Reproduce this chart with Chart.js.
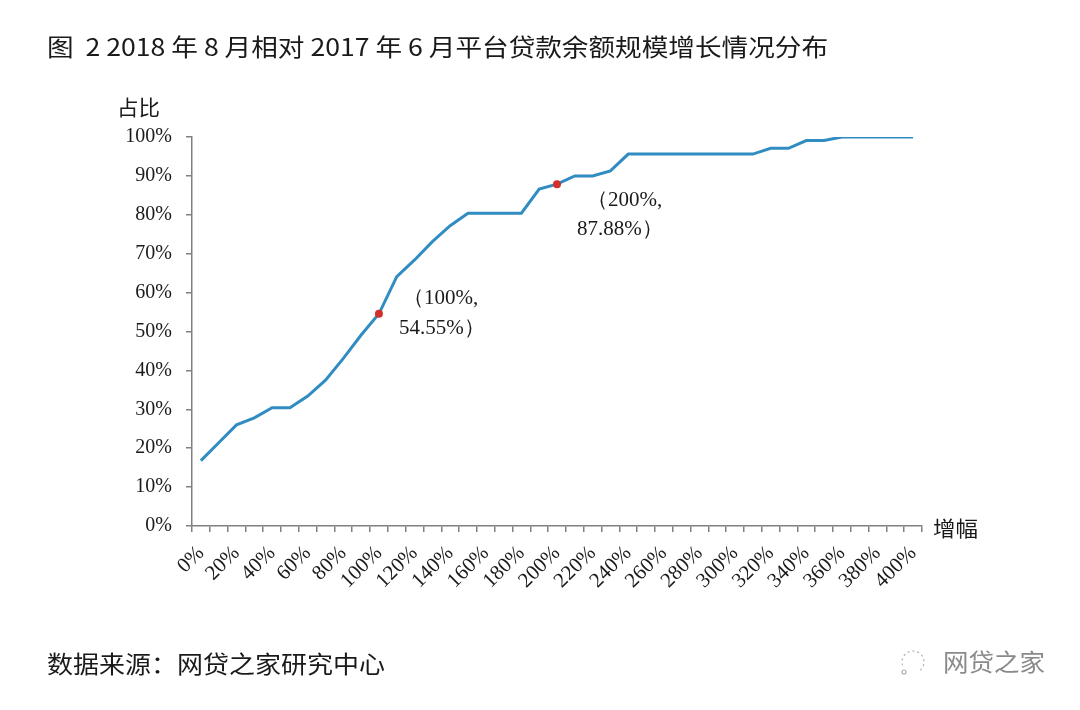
<!DOCTYPE html>
<html><head><meta charset="utf-8">
<script src="https://cdn.jsdelivr.net/npm/chart.js@4"></script>
<style>html,body{margin:0;padding:0;background:#fff;}#wrap{width:1080px;height:710px;position:relative;}</style>
</head><body><div id="wrap"><canvas id="c" width="1080" height="710"></canvas></div>
<script>
// ---- data ----
const categories = ['0%','10%','20%','30%','40%','50%','60%','70%','80%','90%',
  '100%','110%','120%','130%','140%','150%','160%','170%','180%','190%',
  '200%','210%','220%','230%','240%','250%','260%','270%','280%','290%',
  '300%','310%','320%','330%','340%','350%','360%','370%','380%','390%','400%'];
const shareValues = [16.8, 21.4, 26.0, 27.8, 30.4, 30.4, 33.4, 37.5, 43.1, 49.1,
  54.55, 64.1, 68.4, 73.1, 77.2, 80.4, 80.4, 80.4, 80.4, 86.6,
  87.88, 90.0, 90.0, 91.3, 95.6, 95.6, 95.6, 95.6, 95.6, 95.6,
  95.6, 95.6, 97.1, 97.1, 99.1, 99.1, 100, 100, 100, 100, 100];
const yTickLabels = ['0%','10%','20%','30%','40%','50%','60%','70%','80%','90%','100%'];
const highlightIndices = [10, 20];
const highlightLabels = [['（100%,', '54.55%）'], ['（200%,', '87.88%）']];
const titleText = '图  2 2018 年 8 月相对 2017 年 6 月平台贷款余额规模增长情况分布';
const yAxisTitle = '占比';
const xAxisTitle = '增幅';
const sourceText = '数据来源：网贷之家研究中心';
const watermarkText = '网贷之家';

const CJK = '"Noto Sans CJK SC", "Noto Sans", sans-serif';
const SERIF = '"Liberation Serif", "DejaVu Serif", serif';
const AXIS_COLOR = '#808080';

function fitText(ctx, text, x, y, w, font, color) {
  ctx.save();
  ctx.font = font; ctx.fillStyle = color;
  ctx.textBaseline = 'middle'; ctx.textAlign = 'left';
  const m = ctx.measureText(text).width;
  ctx.translate(x, y);
  ctx.scale(w / m, 1);
  ctx.fillText(text, 0, 0);
  ctx.restore();
}

const textPlugin = {
  id: 'texts',
  afterDraw(chart) {
    const ctx = chart.ctx;
    fitText(ctx, titleText, 47, 47, 781, '24px ' + CJK, '#1a1a1a');
    fitText(ctx, sourceText, 47, 664, 338, '24px ' + CJK, '#1a1a1a');
    fitText(ctx, yAxisTitle, 117, 107, 43, '21px ' + CJK, '#1a1a1a');
    fitText(ctx, xAxisTitle, 933, 528, 45, '21px ' + CJK, '#1a1a1a');
    fitText(ctx, watermarkText, 943, 662, 102, '24px ' + CJK, '#8a8a8a');
    // watermark icon
    ctx.save();
    ctx.strokeStyle = '#b0b0b0'; ctx.lineWidth = 1.2; ctx.setLineDash([2, 3]);
    ctx.beginPath(); ctx.arc(913, 662, 11, Math.PI * 0.9, Math.PI * 2.3); ctx.stroke();
    ctx.setLineDash([]);
    ctx.beginPath(); ctx.arc(904, 672, 2, 0, Math.PI * 2); ctx.stroke();
    ctx.restore();
    // point annotations
    const meta = chart.getDatasetMeta(0);
    const offsets = [[[24, -15], [20, 15]], [[30, 16], [20, 45]]];
    ctx.save();
    ctx.font = '21px ' + SERIF; ctx.fillStyle = '#1a1a1a';
    ctx.textBaseline = 'middle'; ctx.textAlign = 'left';
    highlightIndices.forEach((idx, k) => {
      const p = meta.data[idx];
      highlightLabels[k].forEach((line, j) => {
        ctx.fillText(line, p.x + offsets[k][j][0], p.y + offsets[k][j][1]);
      });
    });
    ctx.restore();
  }
};

new Chart(document.getElementById('c'), {
  type: 'line',
  data: {
    labels: categories,
    datasets: [{
      data: shareValues,
      borderColor: '#318cc2',
      borderWidth: 3,
      tension: 0,
      clip: 0,
      pointRadius: c => highlightIndices.includes(c.dataIndex) ? 4 : 0,
      pointBackgroundColor: '#d2302a',
      pointBorderWidth: 0,
      pointHoverRadius: 0
    }]
  },
  options: {
    responsive: false,
    animation: false,
    events: [],
    layout: { padding: { left: 0, top: 137, right: 158, bottom: 0 } },
    plugins: { legend: { display: false }, tooltip: { enabled: false } },
    scales: {
      x: {
        type: 'category',
        offset: true,
        afterFit: s => { s.height = 184; },
        border: { display: true, color: AXIS_COLOR, width: 1.5 },
        grid: { offset: true, drawOnChartArea: false, drawTicks: true, tickLength: 6, color: AXIS_COLOR, lineWidth: 1.5 },
        ticks: {
          autoSkip: false, maxRotation: 45, minRotation: 45, padding: 9,
          color: '#1a1a1a', font: { family: SERIF, size: 21 },
          callback: (v, i) => (i % 2 === 0 ? categories[i] : '')
        }
      },
      y: {
        min: 0, max: 100,
        afterFit: s => { s.width = 192; },
        border: { display: true, color: AXIS_COLOR, width: 1.5 },
        grid: { drawOnChartArea: false, drawTicks: true, tickLength: 6, color: AXIS_COLOR, lineWidth: 1.5 },
        ticks: {
          stepSize: 10, padding: 14,
          color: '#1a1a1a', font: { family: SERIF, size: 20 },
          callback: (v) => yTickLabels[Math.round(v / 10)]
        }
      }
    }
  },
  plugins: [textPlugin]
});
</script></body></html>
